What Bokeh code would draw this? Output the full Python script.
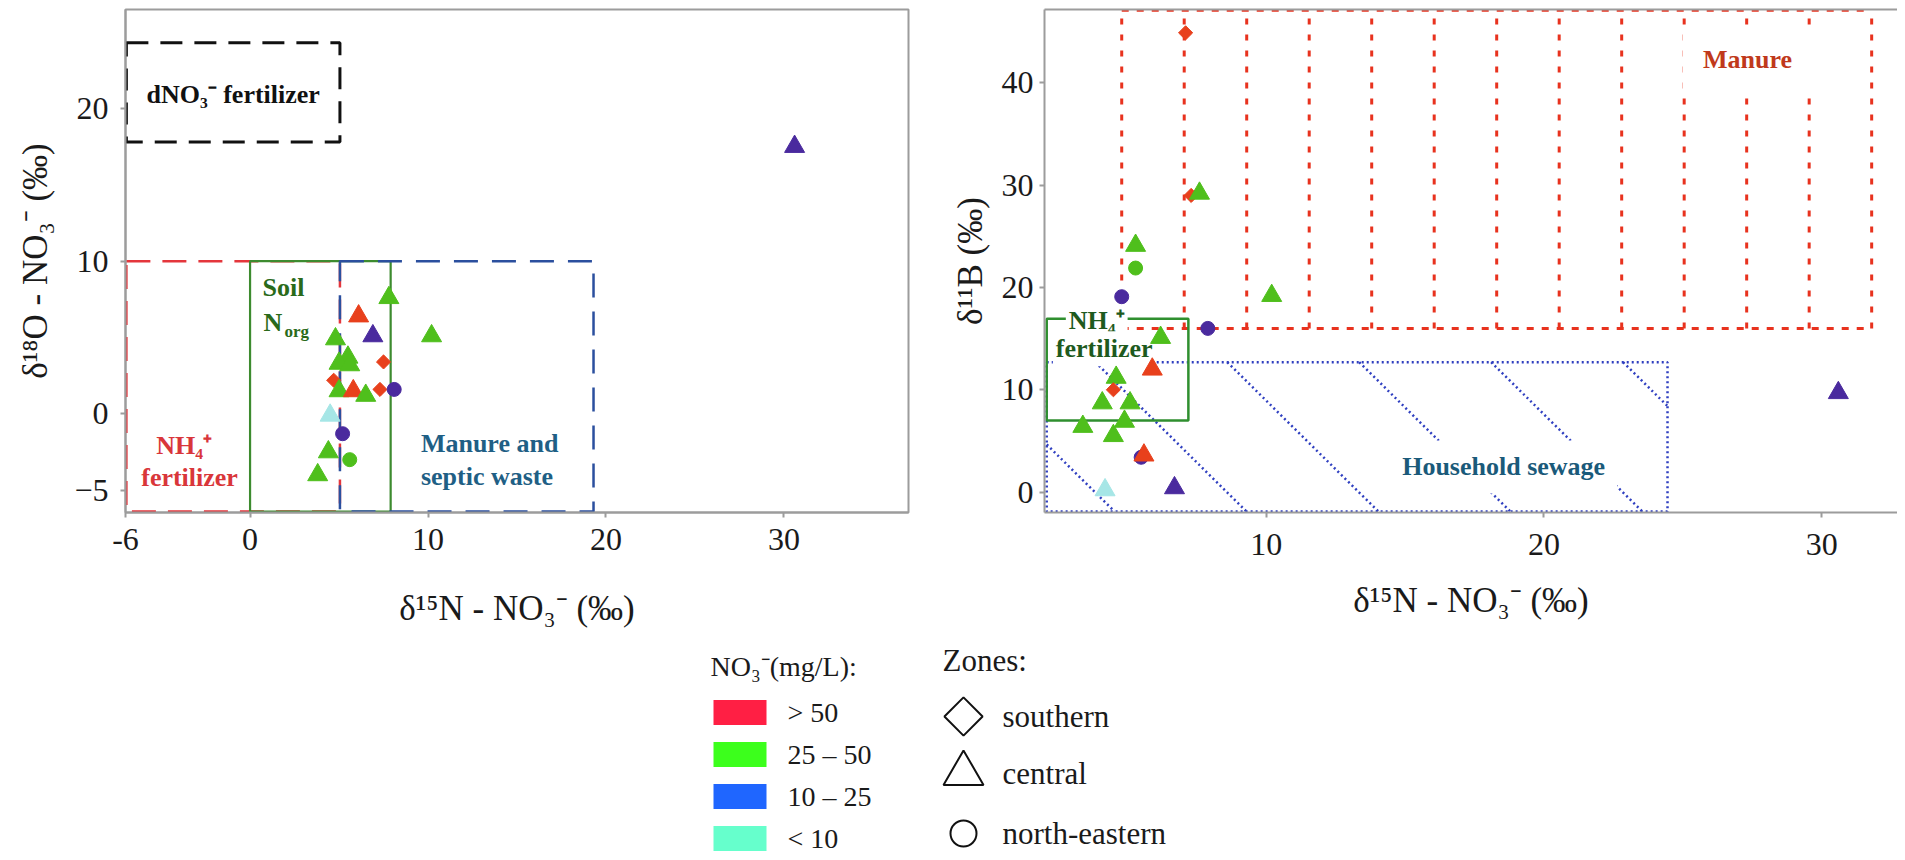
import numpy as np
from bokeh.plotting import figure
from bokeh.models import Range1d, FixedTicker, LinearAxis, ColumnDataSource
from bokeh.layouts import column, row
from bokeh.embed import file_html
from bokeh.resources import INLINE
from bokeh.core.properties import value

# ---------------- data ----------------
conc_classes = ["> 50", "25 – 50", "10 – 25", "< 10"]
zones = ["southern", "central", "north-eastern"]

# Panel A : d15N-NO3 vs d18O-NO3
a_d15n = [7.8, 6.1, 6.9, 10.2, 4.8, 5.5, 5.0, 5.6, 7.5, 4.7, 5.0, 5.8, 6.5,
          7.3, 8.1, 4.5, 5.2, 4.4, 5.6, 3.8, 30.6]
a_d18o = [7.6, 6.4, 5.1, 5.1, 4.9, 3.7, 3.3, 3.2, 3.4, 2.2, 1.5, 1.5, 1.2,
          1.6, 1.6, -0.1, -1.3, -2.5, -3.0, -4.0, 17.5]
a_conc = ["25 – 50", "> 50", "10 – 25", "25 – 50", "25 – 50", "25 – 50",
          "25 – 50", "25 – 50", "> 50", "> 50", "25 – 50", "> 50", "25 – 50",
          "> 50", "10 – 25", "< 10", "10 – 25", "25 – 50", "25 – 50",
          "25 – 50", "10 – 25"]
a_zone = ["central", "central", "central", "central", "central", "central",
          "central", "central", "southern", "southern", "central", "central",
          "central", "southern", "north-eastern", "central", "north-eastern",
          "central", "north-eastern", "central", "central"]

# Panel B : d15N-NO3 vs d11B
b_d15n = [7.1, 7.3, 7.6, 5.3, 5.3, 4.8, 10.2, 7.9, 6.2, 5.9, 4.6, 4.5, 4.1,
          5.1, 4.9, 3.4, 4.5, 5.5, 5.6, 4.2, 6.7, 30.6]
b_d11b = [44.9, 29.0, 29.2, 24.1, 21.9, 19.1, 19.2, 16.0, 15.1, 12.0, 11.2,
          10.0, 8.7, 8.7, 6.9, 6.4, 5.5, 3.4, 3.6, 0.2, 0.4, 9.7]
b_conc = ["> 50", "> 50", "25 – 50", "25 – 50", "25 – 50", "10 – 25",
          "25 – 50", "10 – 25", "25 – 50", "> 50", "25 – 50", "> 50",
          "25 – 50", "25 – 50", "25 – 50", "25 – 50", "25 – 50", "10 – 25",
          "> 50", "< 10", "10 – 25", "10 – 25"]
b_zone = ["southern", "southern", "central", "central", "north-eastern",
          "north-eastern", "central", "north-eastern", "central", "central",
          "central", "southern", "central", "central", "central", "central",
          "central", "north-eastern", "central", "central", "central", "central"]

# source regions
a_region_names = ["dNO₃⁻ fertilizer", "NH₄⁺ fertilizer", "Soil Norg",
                  "Manure and septic waste"]
a_region_x0 = [-6.95, -6.95, 0.0, 5.05]
a_region_x1 = [5.05, 5.05, 7.9, 19.3]
a_region_y0 = [17.8, -6.4, -6.4, -6.4]
a_region_y1 = [24.3, 10.0, 10.0, 10.0]

b_region_names = ["Manure", "Household sewage", "NH₄⁺ fertilizer"]
b_region_x0 = [4.8, 2.1, 2.1]
b_region_x1 = [31.8, 24.45, 7.2]
b_region_y0 = [16.0, -1.9, 7.0]
b_region_y1 = [47.1, 12.7, 16.95]

# ---------------- styles ----------------
FONT = "Liberation Serif"
AX = "#9c9c9c"
TXT = "#1a1a1a"
point_colors = ["#e8401c", "#4fbf1c", "#4a2a9e", "#a6e6e6"]
legend_colors = ["#ff1f44", "#3cff1c", "#1f66ff", "#66ffcc"]
zone_marker = {"southern": "square", "central": "triangle", "north-eastern": "circle"}
zone_size = {"southern": 10, "central": 20, "north-eastern": 14}
zone_angle = {"southern": np.pi / 4, "central": 0.0, "north-eastern": 0.0}


def style_axis(ax, label):
    ax.axis_label = label
    ax.axis_line_color = AX
    ax.axis_line_width = 2
    ax.major_tick_line_color = AX
    ax.major_tick_line_width = 2
    ax.major_tick_out = 5
    ax.major_tick_in = 0
    ax.minor_tick_line_color = None
    ax.major_label_text_font = FONT
    ax.major_label_text_font_size = "32px"
    ax.major_label_text_color = TXT
    ax.axis_label_text_font = FONT
    ax.axis_label_text_font_size = "35px"
    ax.axis_label_text_font_style = "normal"
    ax.axis_label_text_color = TXT


def points_source(xs, ys, concs, zs):
    return ColumnDataSource(dict(
        x=xs, y=ys,
        color=[point_colors[conc_classes.index(c)] for c in concs],
        marker=[zone_marker[z] for z in zs],
        size=[zone_size[z] for z in zs],
        angle=[zone_angle[z] for z in zs],
    ))


# ================= Panel A =================
p1 = figure(width=920, height=630, x_range=Range1d(-7, 37),
            y_range=Range1d(-6.46, 26.48), output_backend="svg",
            toolbar_location=None, min_border_left=125, min_border_right=12,
            min_border_top=9, min_border_bottom=116)
p1.grid.visible = False
p1.outline_line_color = AX
p1.outline_line_width = 2
p1.background_fill_color = "white"
style_axis(p1.xaxis[0], "δ¹⁵N - NO₃⁻ (‰)")
style_axis(p1.yaxis[0], "δ¹⁸O - NO₃⁻ (‰)")
p1.xaxis[0].ticker = FixedTicker(ticks=[-7, 0, 10, 20, 30])
p1.xaxis[0].major_label_overrides = {-7: "-6"}
p1.xaxis[0].major_label_standoff = 11
p1.xaxis[0].axis_label_standoff = 36
p1.yaxis[0].ticker = FixedTicker(ticks=[-5, 0, 10, 20])
p1.yaxis[0].major_label_standoff = 12
p1.yaxis[0].axis_label_standoff = 16

a_styles = [
    dict(line_color="#111111", line_dash="22 12", line_width=3),
    dict(line_color="#e4363c", line_dash="24 12", line_width=2.5),
    dict(line_color="#3d8b2f", line_dash="solid", line_width=2.2),
    dict(line_color="#2b4f9e", line_dash="24 14", line_width=2.5),
]
for i, st in enumerate(a_styles):
    p1.quad(left=[a_region_x0[i]], right=[a_region_x1[i]],
            bottom=[a_region_y0[i]], top=[a_region_y1[i]],
            fill_color=None, **st)

bold = dict(text_font=value(FONT), text_font_style="bold", text_font_size="26px",
            text_baseline="middle")
p1.text(x=[-0.95], y=[20.9], text=["dNO₃⁻ fertilizer"], text_color="#111111",
        text_align="center", **bold)
p1.text(x=[-3.7, -3.4], y=[-2.1, -4.2], text=["NH₄⁺", "fertilizer"],
        text_color="#d9363a", text_align="center", **bold)
p1.text(x=[0.7, 0.75], y=[8.3, 6.0], text=["Soil", "N"], text_color="#2a6a1a",
        text_align="left", **bold)
p1.text(x=[0.75], y=[6.0], text=["org"], text_color="#2a6a1a", text_align="left",
        x_offset=21, y_offset=9, text_font=value(FONT), text_font_style="bold",
        text_font_size="17px", text_baseline="middle")
p1.text(x=[9.6, 9.6], y=[-1.95, -4.1], text=["Manure and", "septic waste"],
        text_color="#1f5f85", text_align="left", **bold)

p1.scatter(x="x", y="y", marker="marker", size="size", angle="angle",
           fill_color="color", line_color="color",
           source=points_source(a_d15n, a_d18o, a_conc, a_zone))

# ================= Panel B =================
XR = (2.02, 32.73)
YR = (-2.0, 47.18)
FW, FH = 853, 509
p2 = figure(width=977, height=630, x_range=Range1d(*XR), y_range=Range1d(*YR),
            output_backend="svg", toolbar_location=None, min_border_left=124,
            min_border_right=0, min_border_top=9, min_border_bottom=112)
p2.grid.visible = False
p2.outline_line_color = None
style_axis(p2.xaxis[0], "δ¹⁵N - NO₃⁻ (‰)")
style_axis(p2.yaxis[0], "δ¹¹B (‰)")
p2.xaxis[0].ticker = FixedTicker(ticks=[10, 20, 30])
p2.xaxis[0].major_label_standoff = 16
p2.xaxis[0].axis_label_standoff = 23
p2.yaxis[0].ticker = FixedTicker(ticks=[0, 10, 20, 30, 40])
p2.yaxis[0].major_label_standoff = 6
p2.yaxis[0].axis_label_standoff = 9
top_axis = LinearAxis(ticker=FixedTicker(ticks=[]), axis_line_color=AX,
                      axis_line_width=2, major_tick_line_color=None,
                      minor_tick_line_color=None, major_label_standoff=0)
p2.add_layout(top_axis, "above")

RED = "#e8321e"
BLUE = "#2f3fc0"
GREEN = "#2f8f2f"

# Manure: dashed box with vertical hatch
mx0, mx1, my0, my1 = b_region_x0[0], b_region_x1[0], b_region_y0[0], b_region_y1[0]
vx = np.linspace(mx0, mx1, 13)
p2.multi_line(xs=[[v, v] for v in vx], ys=[[my0, my1] for _ in vx],
              line_color=RED, line_dash="6 10", line_width=3)
p2.multi_line(xs=[[mx0, mx1], [mx0, mx1]], ys=[[my0, my0], [my1, my1]],
              line_color=RED, line_dash="7 8", line_width=3)

# Household sewage: dotted box with 45-degree hatch
hx0, hx1, hy0, hy1 = b_region_x0[1], b_region_x1[1], b_region_y0[1], b_region_y1[1]
k = (FW / (XR[1] - XR[0])) / (FH / (YR[1] - YR[0]))  # data-slope of a 45deg line
hxs, hys = [], []
t = hx0 - 3.0
while t < hx1:
    ya = max(hy0, hy1 - (hx1 - t) * k)
    yb = min(hy1, hy1 - (hx0 - t) * k)
    if yb > ya:
        hxs.append([t + (hy1 - yb) / k, t + (hy1 - ya) / k])
        hys.append([yb, ya])
    t += 4.75
p2.multi_line(xs=hxs, ys=hys, line_color=BLUE, line_dash="2 3", line_width=2.5)
p2.quad(left=[hx0], right=[hx1], bottom=[hy0], top=[hy1], fill_color=None,
        line_color=BLUE, line_dash="2 3", line_width=2.5)

# NH4+ fertilizer: solid green box
p2.quad(left=[b_region_x0[2]], right=[b_region_x1[2]], bottom=[b_region_y0[2]],
        top=[b_region_y1[2]], fill_color=None, line_color=GREEN, line_width=2.5)

p2.text(x=[27.33], y=[42.3], text=["Manure"], text_color="#c0391b",
        text_align="center", background_fill_color="white", padding=20, **bold)
p2.text(x=[18.55], y=[2.45], text=["Household sewage"], text_color="#1a5a7a",
        text_align="center", background_fill_color="white", padding=12, **bold)
p2.text(x=[3.9, 4.17], y=[16.75, 14.0], text=["NH₄⁺", "fertilizer"],
        text_color="#1e5a1e", text_align="center", background_fill_color="white",
        padding=3, **bold)

p2.scatter(x="x", y="y", marker="marker", size="size", angle="angle",
           fill_color="color", line_color="color",
           source=points_source(b_d15n, b_d11b, b_conc, b_zone))

# ================= Legend =================
pl = figure(width=1897, height=226, x_range=Range1d(0, 1897),
            y_range=Range1d(856, 630), output_backend="svg",
            toolbar_location=None, min_border=0, x_axis_type=None,
            y_axis_type=None)
pl.grid.visible = False
pl.outline_line_color = None

rows_y = [712 + 42 * i for i in range(len(conc_classes))]
pl.text(x=[710], y=[666], text=["NO₃⁻(mg/L):"], text_font=value(FONT),
        text_font_size="28px", text_color=TXT, text_baseline="middle")
pl.rect(x=[739.5] * len(conc_classes), y=rows_y, width=53, height=25,
        fill_color=legend_colors, line_color=None)
pl.text(x=[787] * len(conc_classes), y=rows_y, text=conc_classes,
        text_font=value(FONT), text_font_size="28px", text_color=TXT,
        text_baseline="middle")

zone_y = [716, 773, 833]
pl.text(x=[942], y=[660], text=["Zones:"], text_font=value(FONT),
        text_font_size="31px", text_color=TXT, text_baseline="middle")
pl.scatter(x=[963] * 3, y=zone_y, marker=[zone_marker[z] for z in zones],
           size=[27, 40, 26], angle=[zone_angle[z] for z in zones],
           fill_color=None, line_color="#111111", line_width=2)
pl.text(x=[1002] * 3, y=zone_y, text=zones, text_font=value(FONT),
        text_font_size="31px", text_color=TXT, text_baseline="middle")

layout = column(row(p1, p2), pl)
open("out.html", "w").write(file_html(layout, INLINE))
